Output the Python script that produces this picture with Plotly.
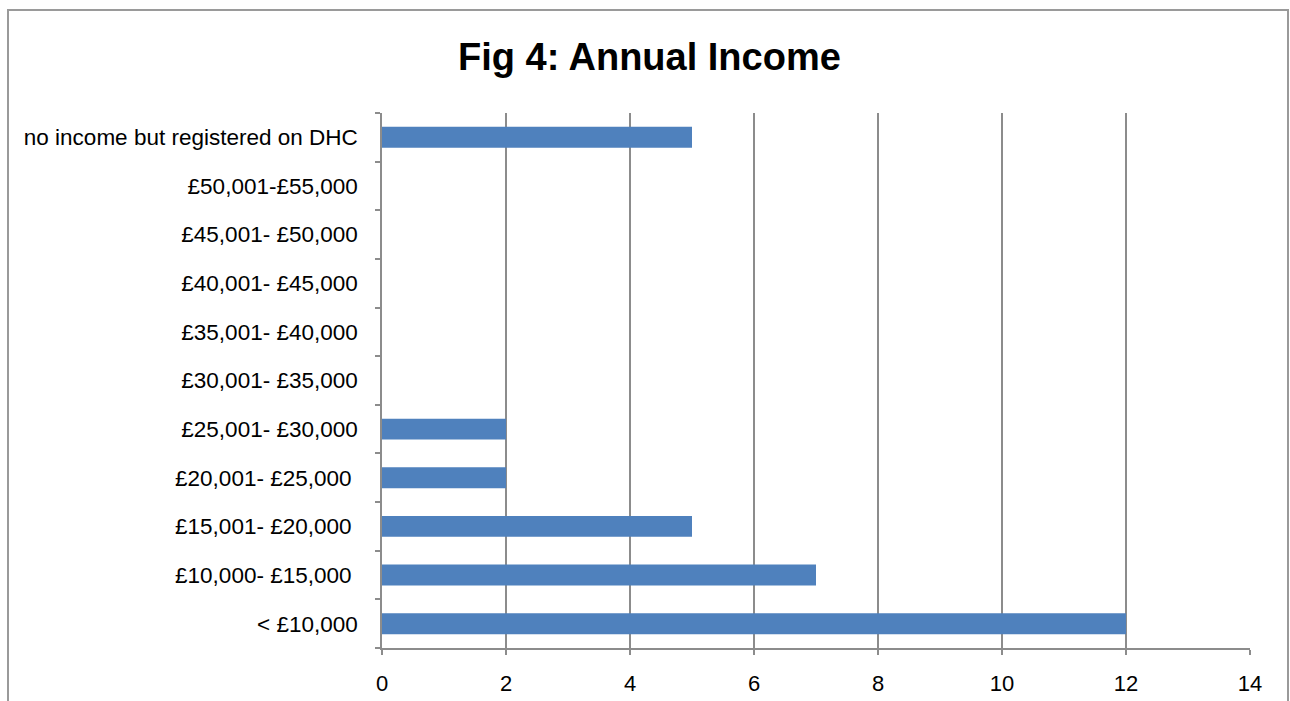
import plotly.graph_objects as go

NB = "\u00a0"
categories = [
    "< £10,000",
    "£10,000- £15,000" + NB,
    "£15,001- £20,000" + NB,
    "£20,001- £25,000" + NB,
    "£25,001- £30,000",
    "£30,001- £35,000",
    "£35,001- £40,000",
    "£40,001- £45,000",
    "£45,001- £50,000",
    "£50,001-£55,000",
    "no income but registered on DHC",
]
values = [12, 7, 5, 2, 2, 0, 0, 0, 0, 0, 5]
x_ticks = [0, 2, 4, 6, 8, 10, 12, 14]

W, H = 1290, 701
L, R, T, B = 382, 1250, 113, 648
pw, ph = R - L, B - T

def px(x):
    return (x - L) / pw

def py(y):
    return (B - y) / ph

GRID = "#8c8c8c"
FONT = "Liberation Sans, Arial, sans-serif"

fig = go.Figure(go.Bar(
    y=categories, x=values, orientation="h",
    marker=dict(color="#4F81BD", line=dict(width=0)),
    width=0.43,
))

fig.update_layout(
    width=W, height=H, autosize=False,
    margin=dict(l=L, r=W - R, t=T, b=H - B, pad=0, autoexpand=False),
    paper_bgcolor="white", plot_bgcolor="white",
    showlegend=False,
    font=dict(family=FONT, size=22, color="black"),
)
fig.update_xaxes(
    range=[0, 14], tickvals=x_ticks, ticktext=[str(v) for v in x_ticks],
    showgrid=True, gridcolor=GRID, gridwidth=1.5,
    showline=True, linecolor=GRID, linewidth=1.5,
    ticks="outside", ticklen=5, tickcolor=GRID, tickwidth=1.5,
    zeroline=False, ticklabelstandoff=10, automargin=False,
    tickfont=dict(family=FONT, size=22, color="black"),
)
fig.update_yaxes(
    type="category", categoryorder="array", categoryarray=categories,
    showgrid=False, showline=True, linecolor=GRID, linewidth=1.5,
    ticks="outside", ticklen=5, tickcolor=GRID, tickwidth=1.5,
    tickson="boundaries", ticklabelstandoff=18, automargin=False,
    tickfont=dict(family=FONT, size=22.5, color="black"),
)

fig.add_shape(type="rect", xref="paper", yref="paper",
              x0=px(8), x1=px(1288), y0=py(710), y1=py(10),
              line=dict(color="#9a9a9a", width=2), fillcolor="rgba(0,0,0,0)",
              layer="below")

fig.add_annotation(text="<b>Fig 4: Annual Income</b>", xref="paper", yref="paper",
                   x=px(649), y=py(57), xanchor="center", yanchor="middle",
                   showarrow=False, font=dict(family=FONT, size=38, color="black"))

fig.write_html("out.html", config={"displayModeBar": False},
               post_script="document.body.style.margin='0';document.body.style.overflow='hidden';")
